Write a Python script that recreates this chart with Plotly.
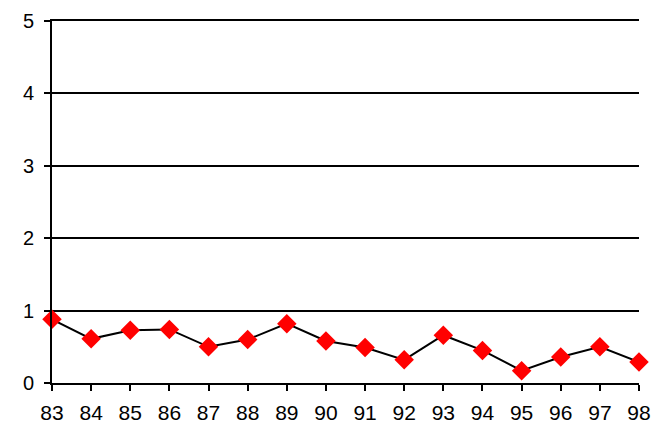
import plotly.graph_objects as go

years = ["83", "84", "85", "86", "87", "88", "89", "90", "91", "92", "93", "94", "95", "96", "97", "98"]
values = [0.88, 0.61, 0.73, 0.74, 0.50, 0.60, 0.82, 0.58, 0.49, 0.32, 0.66, 0.45, 0.17, 0.36, 0.50, 0.29]
y_ticks = [0, 1, 2, 3, 4, 5]

fig = go.Figure(go.Scatter(
    x=years, y=values, mode="lines+markers",
    line=dict(color="black", width=2),
    marker=dict(symbol="diamond", size=15, color="#ff0000", line=dict(width=0)),
    cliponaxis=False,
))

fig.update_layout(
    width=653, height=423,
    margin=dict(l=52, r=14, t=21, b=40),
    paper_bgcolor="white", plot_bgcolor="white",
    showlegend=False,
    font=dict(family="Liberation Sans, Arial, sans-serif", size=20, color="black"),
)
fig.update_xaxes(
    type="category", range=[0, len(years) - 1], automargin=False,
    showgrid=False, showline=True, linecolor="black", linewidth=2, mirror=True,
    ticks="outside", ticklen=6, tickwidth=2, tickcolor="black",
    tickfont=dict(size=21), ticklabelstandoff=4,
)
fig.update_yaxes(
    range=[0, 5], tickvals=y_ticks, automargin=False,
    showgrid=True, gridcolor="black", gridwidth=2,
    showline=True, linecolor="black", linewidth=2,
    ticks="outside", ticklen=6, tickwidth=2, tickcolor="black",
    zeroline=False, tickfont=dict(size=20), ticklabelstandoff=6,
)

fig.write_html(
    "out.html",
    config={"displayModeBar": False},
    post_script="document.body.style.margin='0';document.body.style.padding='0';",
)
